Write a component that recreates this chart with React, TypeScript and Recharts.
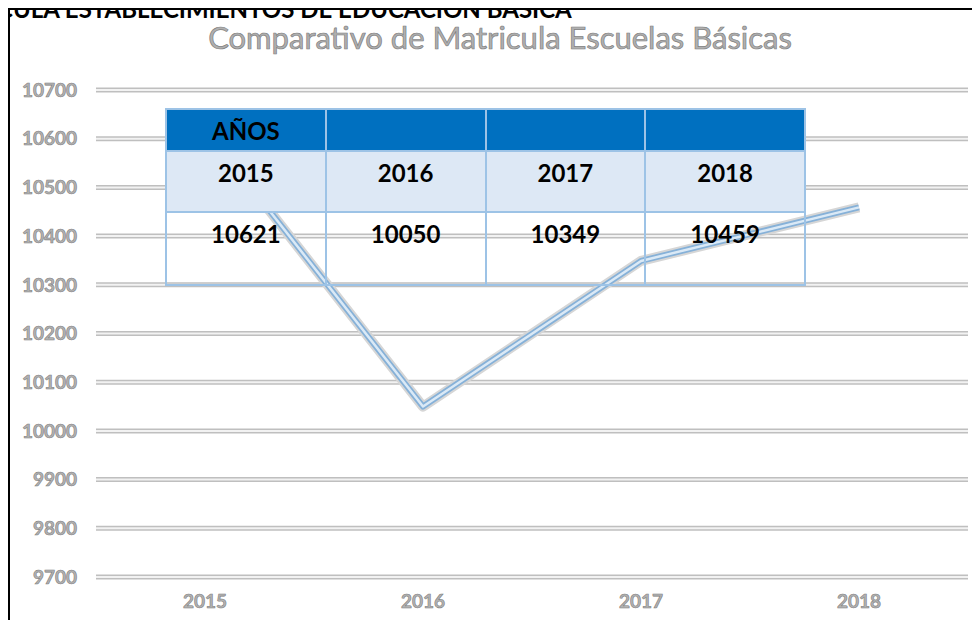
import { LineChart, Line, XAxis, YAxis, CartesianGrid } from 'recharts';

const years = ['2015', '2016', '2017', '2018'];
const matricula = [10621, 10050, 10349, 10459];
const yTicks = [9700, 9800, 9900, 10000, 10100, 10200, 10300, 10400, 10500, 10600, 10700];
const headerLabel = 'AÑOS';
const sheetTitle = 'CULA ESTABLECIMIENTOS DE EDUCACION BASICA';
const chartTitle = 'Comparativo de Matricula Escuelas Básicas';

const FONT = 'Lato, "Open Sans", sans-serif';

const tickStyle = {
  fill: '#b3b3b3',
  stroke: '#7f7f7f',
  strokeWidth: 0.6,
  fontSize: 19,
  fontWeight: 700,
  fontFamily: FONT,
};

export default function App() {
  const data = years.map((y, i) => ({ year: y, value: matricula[i] }));

  const cell = {
    border: '2px solid #9dc3e6',
    textAlign: 'center' as const,
    verticalAlign: 'top' as const,
    fontFamily: FONT,
    fontWeight: 700,
    fontSize: 24,
    color: '#000',
    padding: 0,
  };

  return (
    <div style={{ position: 'relative', width: 980, height: 628, margin: -8, overflow: 'hidden', background: '#fff' }}>
      {/* sheet title, cut off on the left */}
      <div
        style={{
          position: 'absolute', left: -3, top: -3, fontFamily: FONT, fontWeight: 700,
          fontSize: 24, lineHeight: '24px', color: '#000', whiteSpace: 'nowrap',
        }}
      >
        {sheetTitle}
      </div>
      {/* frame */}
      <div
        style={{
          position: 'absolute', left: 8, top: 8, width: 972, height: 640,
          borderLeft: '2px solid #000', borderTop: '2px solid #000', boxSizing: 'border-box',
        }}
      />

      <div
        style={{
          position: 'absolute', left: 0, width: 980, top: 19, textAlign: 'center',
          fontFamily: FONT, fontSize: 31, lineHeight: '36px', color: '#b0b0b0',
          WebkitTextStroke: '0.7px #7f7f7f', paddingLeft: 20, boxSizing: 'border-box',
        }}
      >
        {chartTitle}
      </div>

      <div style={{ position: 'absolute', left: 0, top: 0 }}>
        <LineChart width={980} height={628} data={data} margin={{ top: 90, right: 12, left: 0, bottom: 21 }}>
          <CartesianGrid vertical={false} stroke="#bfbfbf" strokeWidth={5} />
          <CartesianGrid vertical={false} stroke="#f2f2f2" strokeWidth={2} />
          <XAxis
            dataKey="year"
            height={30}
            axisLine={false}
            tickLine={false}
            tickMargin={12}
            padding={{ left: 109, right: 109 }}
            tick={tickStyle}
          />
          <YAxis
            width={96}
            domain={[9700, 10700]}
            ticks={yTicks}
            axisLine={false}
            tickLine={false}
            tickMargin={13}
            tick={tickStyle}
            interval={0}
          />
          <Line dataKey="value" stroke="#d6d6d6" strokeWidth={10} dot={false} isAnimationActive={false} strokeLinejoin="round" />
          <Line dataKey="value" stroke="#86b1d8" strokeWidth={6} dot={false} isAnimationActive={false} strokeLinejoin="round" />
          <Line dataKey="value" stroke="#dae9f6" strokeWidth={2.5} dot={false} isAnimationActive={false} strokeLinejoin="round" />
        </LineChart>
      </div>

      <table
        style={{
          position: 'absolute', left: 165, top: 108, width: 641, height: 176,
          borderCollapse: 'collapse', tableLayout: 'fixed', boxSizing: 'border-box',
        }}
      >
        <tbody>
          <tr style={{ height: 42 }}>
            {years.map((y, i) => (
              <td key={y} style={{ ...cell, background: '#0070c0', verticalAlign: 'middle' }}>
                {i === 0 ? headerLabel : ''}
              </td>
            ))}
          </tr>
          <tr style={{ height: 61 }}>
            {years.map((y) => (
              <td key={y} style={{ ...cell, background: '#dde8f5', paddingTop: 6 }}>
                {y}
              </td>
            ))}
          </tr>
          <tr style={{ height: 73 }}>
            {matricula.map((v, i) => (
              <td key={years[i]} style={{ ...cell, background: 'transparent', paddingTop: 6 }}>
                {v}
              </td>
            ))}
          </tr>
        </tbody>
      </table>
    </div>
  );
}
